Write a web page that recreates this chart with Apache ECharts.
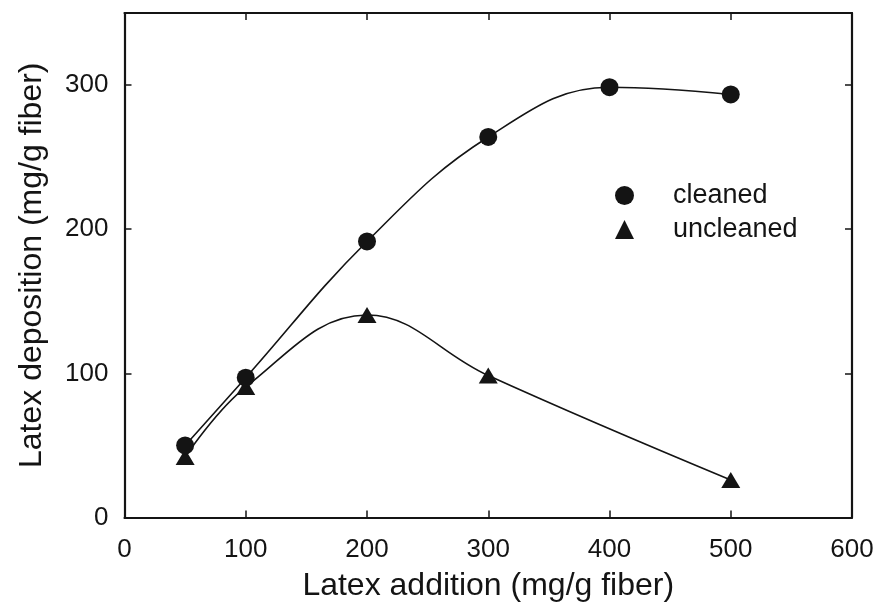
<!DOCTYPE html>
<html>
<head>
<meta charset="utf-8">
<script src="https://cdn.jsdelivr.net/npm/echarts@6/dist/echarts.min.js"></script>
<style>
html,body{margin:0;padding:0;background:#fff;}
#chart{width:880px;height:615px;}
</style>
</head>
<body>
<div id="chart"></div>
<script>
const xValues = [50, 100, 200, 300, 400, 500];
const cleaned = [50, 97, 191.5, 264, 298.5, 293.5];
const uncleanedX = [50, 100, 200, 300, 500];
const uncleaned = [42, 90.5, 140.5, 98.5, 26];
const seriesNames = ['cleaned', 'uncleaned'];
const xTitle = 'Latex addition (mg/g fiber)';
const yTitle = 'Latex deposition (mg/g fiber)';

const FONT = '"Liberation Sans", Arial, Helvetica, sans-serif';
const INK = '#141414';

const chart = echarts.init(document.getElementById('chart'), null, {renderer: 'canvas'});

const axisCommon = {
  axisLine: {show: true, onZero: false, lineStyle: {color: INK, width: 2.2}},
  axisTick: {show: true, inside: true, length: 7, lineStyle: {color: INK, width: 1.5}},
  splitLine: {show: false}
};

chart.setOption({
  animation: false,
  backgroundColor: '#ffffff',
  grid: {left: 124.5, right: 28, top: 13, bottom: 97.5, containLabel: false},
  legend: {
    left: 610,
    top: 177,
    orient: 'vertical',
    itemWidth: 19,
    itemHeight: 19,
    itemGap: 7,
    data: [
      {name: seriesNames[0], icon: 'circle'},
      {name: seriesNames[1], icon: 'triangle'}
    ],
    textStyle: {fontFamily: FONT, fontSize: 27, color: INK, padding: [0, 0, 0, 34]},
    itemStyle: {color: INK}
  },
  xAxis: [
    Object.assign({
      type: 'value', position: 'bottom', min: 0, max: 600, interval: 100,
      name: xTitle, nameLocation: 'middle', nameGap: 53,
      nameTextStyle: {fontFamily: FONT, fontSize: 32, color: INK},
      axisLabel: {fontFamily: FONT, fontSize: 26, color: INK, margin: 19, showMinLabel: true, showMaxLabel: true}
    }, axisCommon),
    Object.assign({
      type: 'value', position: 'top', min: 0, max: 600, interval: 100,
      axisLabel: {show: false}
    }, axisCommon)
  ],
  yAxis: [
    Object.assign({
      type: 'value', position: 'left', min: 0, max: 350, interval: 100,
      name: yTitle, nameLocation: 'middle', nameGap: 76,
      nameTextStyle: {fontFamily: FONT, fontSize: 32, color: INK},
      axisLabel: {fontFamily: FONT, fontSize: 26, color: INK, margin: 16, showMaxLabel: false}
    }, axisCommon),
    Object.assign({
      type: 'value', position: 'right', min: 0, max: 350, interval: 100,
      axisLabel: {show: false}
    }, axisCommon)
  ],
  series: [
    {
      name: seriesNames[0],
      type: 'line',
      smooth: 0.4,
      data: xValues.map((x, i) => [x, cleaned[i]]),
      symbol: 'circle',
      symbolSize: 18,
      itemStyle: {color: INK},
      lineStyle: {color: INK, width: 1.6},
      z: 3
    },
    {
      name: seriesNames[1],
      type: 'line',
      smooth: 0.4,
      data: uncleanedX.map((x, i) => [x, uncleaned[i]]),
      symbol: 'triangle',
      symbolSize: [19, 16],
      itemStyle: {color: INK},
      lineStyle: {color: INK, width: 1.6},
      z: 2
    }
  ]
});
</script>
</body>
</html>
